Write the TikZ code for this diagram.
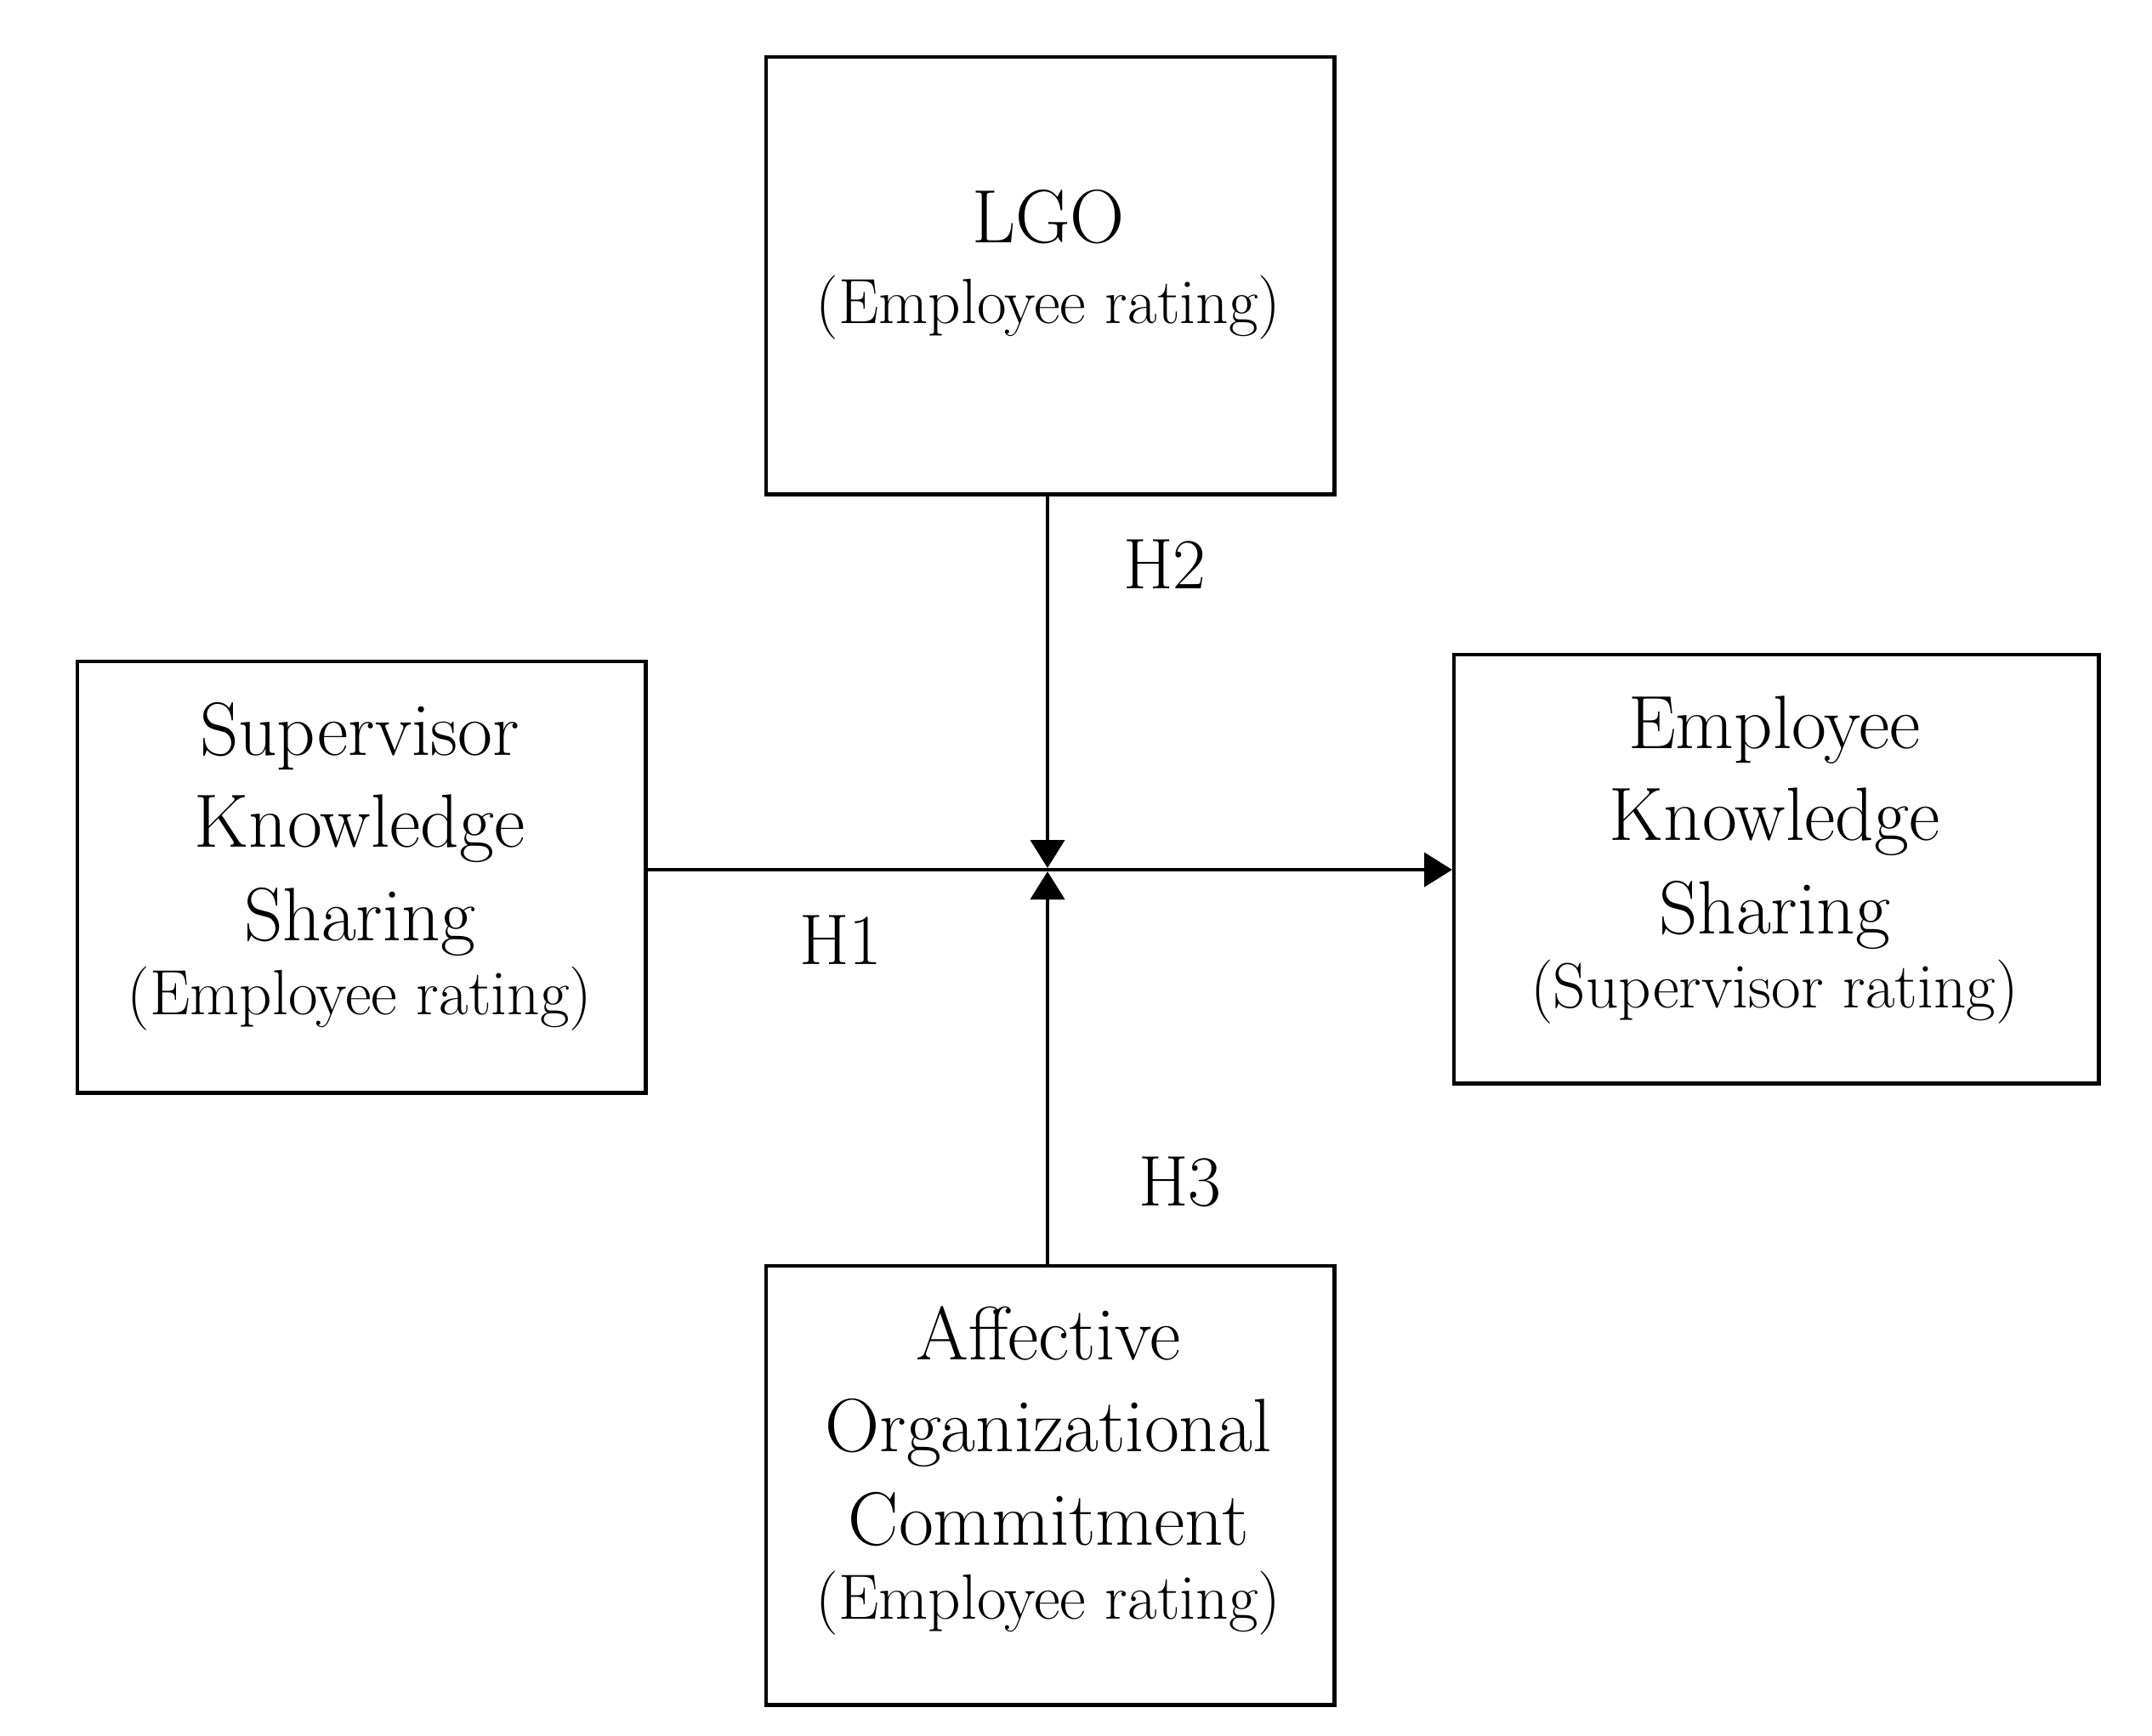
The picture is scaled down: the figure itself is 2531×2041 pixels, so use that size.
\documentclass[tikz,border=0pt]{standalone}
\usetikzlibrary{arrows.meta}
\begin{document}
\begin{tikzpicture}[x=0.01cm,y=-0.01cm,
  box/.style={draw,line width=1.2pt,inner sep=0pt,anchor=north west},
  mtxt/.style={anchor=base,inner sep=0pt,font=\fontsize{25.3}{30}\selectfont},
  stxt/.style={anchor=base,inner sep=0pt,font=\fontsize{21.4}{25}\selectfont},
  arr/.style={line width=1.2pt,-{Triangle[length=0.33cm,width=0.40cm]}},
  lbl/.style={anchor=base,inner sep=0pt,font=\fontsize{24}{30}\selectfont}]
\useasboundingbox (0,0) rectangle (2531,2041);
\fill[white] (0,0) rectangle (2531,2041);
% boxes
\node[box,minimum width=6.68cm,minimum height=5.14cm] (lgo) at (899,65) {};
\node[box,minimum width=6.68cm,minimum height=5.07cm] (sup) at (89,776) {};
\node[box,minimum width=7.58cm,minimum height=5.04cm] (emp) at (1708,768) {};
\node[box,minimum width=6.68cm,minimum height=5.16cm] (aoc) at (899,1487) {};
% texts
\node[mtxt] (lgo1) at (1233,285) {LGO};
\node[stxt] (lgo2) at (1233,380) {(Employee rating)};
\node[mtxt] (sup1) at (423,888) {Supervisor};
\node[mtxt] (sup2) at (423,996) {Knowledge};
\node[mtxt] (sup3) at (423,1106) {Sharing};
\node[stxt] (sup4) at (423,1193) {(Employee rating)};
\node[mtxt] (emp1) at (2087,880) {Employee};
\node[mtxt] (emp2) at (2087,988) {Knowledge};
\node[mtxt] (emp3) at (2087,1098) {Sharing};
\node[stxt] (emp4) at (2087,1185) {(Supervisor rating)};
\node[mtxt] (aoc1) at (1233,1599) {Affective};
\node[mtxt] (aoc2) at (1233,1707) {Organizational};
\node[mtxt] (aoc3) at (1233,1817) {Commitment};
\node[stxt] (aoc4) at (1233,1904) {(Employee rating)};
% connectors
\coordinate (c) at (1232,1023);
\draw[arr] (sup.east |- c) -- (c -| emp.west);
\draw[arr] (lgo.south -| c) -- ([yshift=0.02cm]c);
\draw[arr] (aoc.north -| c) -- ([yshift=-0.02cm]c);
% labels
\node[lbl] (h2) at (1370,692) {H2};
\node[lbl] (h1) at (989,1134) {H1};
\node[lbl] (h3) at (1388,1418) {H3};
\end{tikzpicture}
\end{document}
